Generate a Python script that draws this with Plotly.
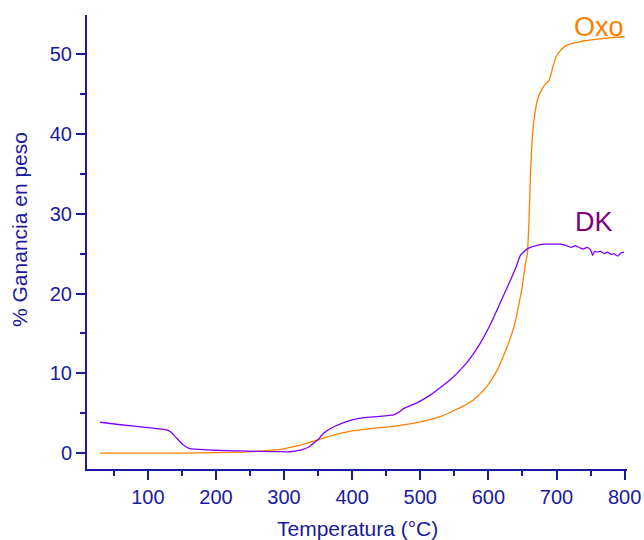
import plotly.graph_objects as go

# Thermogravimetric weight gain of two samples
temp_oxo = [30, 150, 200, 240, 275, 295, 314, 324, 343, 353, 375, 402, 430, 461,
            500, 530, 549, 570, 584, 600, 613, 625, 633, 640, 645, 649, 652, 655,
            657.3, 659.6, 662, 664.5, 667, 672, 679, 684, 689, 694, 699, 705, 711,
            720, 731, 741, 760, 780, 800]
gain_oxo = [0, 0, 0.05, 0.12, 0.3, 0.45, 0.8, 1.0, 1.5, 1.75, 2.3, 2.8, 3.1, 3.35,
            3.9, 4.6, 5.3, 6.2, 7.1, 8.6, 10.4, 12.8, 14.6, 16.6, 18.8, 20.5, 22.3,
            24.0, 25.0, 29.2, 35.5, 39.7, 41.8, 44.3, 45.7, 46.3, 46.7, 48.2, 49.6,
            50.4, 50.9, 51.3, 51.5, 51.7, 51.9, 52.1, 52.2]

temp_dk = [30, 60, 100, 128, 135, 142.5, 152, 162, 175, 200, 230, 265, 290, 309,
           324, 335, 343, 350, 358, 373, 392, 402, 417, 440, 461, 468, 476, 495,
           515, 544, 564, 577, 589, 601, 613, 623, 633, 641, 647, 657, 670, 682,
           695, 706, 715, 721, 728, 735, 740, 745, 750, 753, 756, 760, 765, 770,
           775, 780, 784, 790, 795, 799]
gain_dk = [3.86, 3.55, 3.2, 2.9, 2.55, 1.85, 1.0, 0.55, 0.45, 0.35, 0.28, 0.2,
           0.17, 0.16, 0.38, 0.7, 1.2, 1.7, 2.47, 3.3, 3.94, 4.2, 4.45, 4.6, 4.8,
           5.1, 5.6, 6.3, 7.3, 9.2, 10.9, 12.3, 13.9, 15.8, 18.0, 19.9, 21.8,
           23.4, 24.8, 25.6, 26.0, 26.2, 26.2, 26.2, 26.0, 25.8, 26.0, 25.7, 25.6,
           25.8, 25.5, 24.8, 25.3, 25.2, 25.3, 25.0, 25.2, 24.9, 25.0, 24.7, 25.1,
           25.2]

x_ticks = [100, 200, 300, 400, 500, 600, 700, 800]
y_ticks = [0, 10, 20, 30, 40, 50]

AXIS = "#1a1aa0"
FONT = "Liberation Sans, Arial, sans-serif"

fig = go.Figure()
fig.add_trace(go.Scatter(x=temp_oxo, y=gain_oxo, mode="lines", name="Oxo",
                         line=dict(color="#FF8000", width=1.3, shape="spline",
                                   smoothing=0.4)))
fig.add_trace(go.Scatter(x=temp_dk, y=gain_dk, mode="lines", name="DK",
                         line=dict(color="#8000FF", width=1.3, shape="spline",
                                   smoothing=0.4)))

axis_common = dict(showgrid=False, zeroline=False, showline=True, linewidth=2,
                   linecolor=AXIS, ticks="outside", ticklen=9, tickwidth=2,
                   tickcolor=AXIS, tickfont=dict(family=FONT, size=20, color=AXIS),
                   mirror=False, automargin=False)

fig.update_xaxes(range=[10.7, 803.5], tickvals=x_ticks,
                 minor=dict(dtick=50, tick0=0, ticks="outside", ticklen=5,
                            tickwidth=2, tickcolor=AXIS),
                 **axis_common)
fig.update_yaxes(range=[-2.0, 54.93], tickvals=y_ticks,
                 minor=dict(dtick=5, tick0=0, ticks="outside", ticklen=5,
                            tickwidth=2, tickcolor=AXIS),
                 **axis_common)

fig.update_layout(
    width=644, height=540,
    margin=dict(l=87, r=17, t=15, b=71, autoexpand=False),
    paper_bgcolor="white", plot_bgcolor="white",
    showlegend=False,
    annotations=[
        dict(text="Temperatura (°C)", xref="paper", yref="paper", x=0.5, y=0,
             yshift=-59, showarrow=False, xanchor="center", yanchor="middle",
             font=dict(family=FONT, size=21, color=AXIS)),
        dict(text="% Ganancia en peso", xref="paper", yref="paper", x=0, y=0.5,
             xshift=-68, yshift=12, textangle=-90, showarrow=False,
             xanchor="center", yanchor="middle",
             font=dict(family=FONT, size=21, color=AXIS)),
        dict(text="Oxo", x=763, y=53.4, showarrow=False, xanchor="center",
             yanchor="middle", font=dict(family=FONT, size=27, color="#FF8000")),
        dict(text="DK", x=755, y=29.0, showarrow=False, xanchor="center",
             yanchor="middle", font=dict(family=FONT, size=27, color="#800080")),
    ],
)

fig.write_html("out.html")
